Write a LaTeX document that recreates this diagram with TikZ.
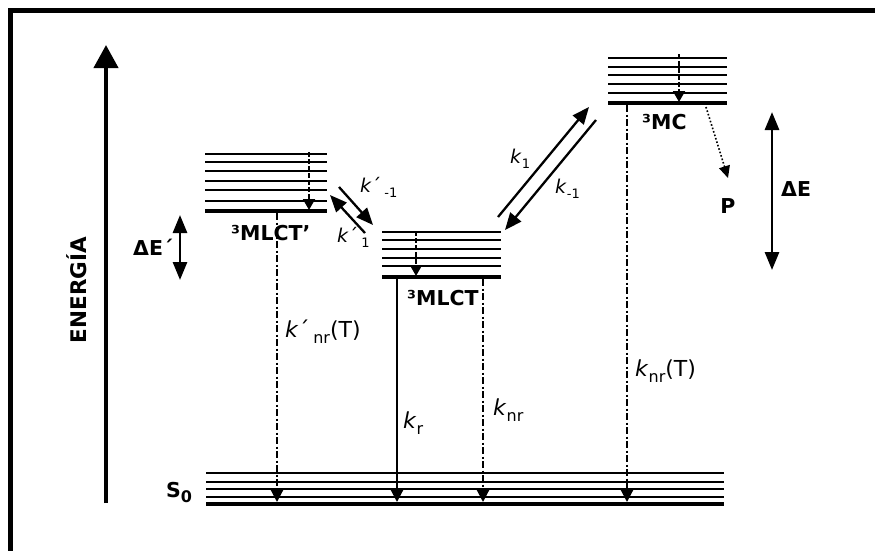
\documentclass[tikz,border=0pt]{standalone}
\usepackage{fontspec}
\setmainfont{DejaVu Sans}[ItalicFont={DejaVu Sans Oblique},BoldFont={DejaVu Sans Bold},BoldItalicFont={DejaVu Sans Bold Oblique}]
\usetikzlibrary{arrows.meta}
\newcommand\sbx[1]{\raisebox{-0.3em}{\fontsize{16}{16}\selectfont #1}}
\newcommand\sbs[1]{\raisebox{-0.3em}{\fontsize{13}{13}\selectfont #1}}
\newcommand\kk{\textit{k}}
\begin{document}
\begin{tikzpicture}[x=1pt,y=-1pt,
  thinlvl/.style={line width=2.2pt},
  thicklvl/.style={line width=4.2pt},
  lbl/.style={font=\fontsize{20.5}{24}\selectfont\bfseries, inner sep=0pt},
  klbl/.style={font=\fontsize{22}{26}\selectfont, inner sep=0pt},
  ksm/.style={font=\fontsize{19}{22}\selectfont, inner sep=0pt},
  dashdot/.style={line width=2pt, dash pattern=on 7pt off 2.5pt on 2pt off 2.5pt},
  decay/.style={-{Triangle[width=12pt,length=12pt]}},
  relax/.style={line width=1.8pt, dash pattern=on 5pt off 2pt, -{Triangle[width=12pt,length=11pt]}},
  transfer/.style={line width=2.3pt, -{Triangle[width=14pt,length=17pt]}},
  gap/.style={line width=2.8pt, {Triangle[width=14pt,length=18pt]}-{Triangle[width=14pt,length=18pt]}}
]
\useasboundingbox (0,0) rectangle (875,550);
% frame (top and left edges)
\draw[line width=4.5pt, line join=miter] (10.3,552) -- (10.3,10.3) -- (877,10.3);

% energy axis
\coordinate (axB) at (106,503);
\coordinate (axT) at (106,45);
\draw[line width=4.2pt, -{Triangle[width=24pt,length=23pt]}] (axB) -- (axT);
\node[lbl, rotate=90, font=\fontsize{21.5}{24}\selectfont\bfseries] (energia) at (77,290) {ENERGÍA};

% 3MLCT' levels
\foreach \y in {154,162,171,181,190,201} \draw[thinlvl] (205,\y) -- (327,\y);
\draw[thicklvl] (205,211) -- (327,211);
% 3MLCT levels
\foreach \y in {232,240,249,258,266} \draw[thinlvl] (382,\y) -- (501,\y);
\draw[thicklvl] (382,277) -- (501,277);
% 3MC levels
\foreach \y in {58,67,75,84,93} \draw[thinlvl] (608,\y) -- (727,\y);
\draw[thicklvl] (608,103) -- (727,103);
% S0 levels
\foreach \y in {473,482,489,497} \draw[thinlvl] (206,\y) -- (724,\y);
\draw[thicklvl] (206,504) -- (724,504);

% state labels
\node[lbl, anchor=base west] (lmlctp) at (231,240) {³MLCT’};
\node[lbl, anchor=base west] (lmlct) at (407,305) {³MLCT};
\node[lbl, anchor=base west] (lmc) at (642,129) {³MC};
\node[lbl, anchor=base] (lp) at (728,213) {P};
\node[lbl, anchor=base west] (lde) at (781,196) {ΔE};
\node[lbl, anchor=base west] (ldep) at (133,255) {ΔE´};
\node[lbl, anchor=base west] (ls0) at (166,497) {S\raisebox{-0.25em}{\fontsize{16}{16}\selectfont 0}};

% internal relaxation arrows
\coordinate (rA1) at (309,152); \coordinate (rA2) at (309,210);
\coordinate (rB1) at (416,231); \coordinate (rB2) at (416,276);
\coordinate (rC1) at (679,54);  \coordinate (rC2) at (679,102);
\draw[relax] (rA1) -- (rA2);
\draw[relax] (rB1) -- (rB2);
\draw[relax] (rC1) -- (rC2);

% decays to S0
\coordinate (dA1) at (277,213); \coordinate (dA2) at (277,502);
\coordinate (dB1) at (397,279); \coordinate (dB2) at (397,502);
\coordinate (dC1) at (483,279); \coordinate (dC2) at (483,502);
\coordinate (dD1) at (627,105); \coordinate (dD2) at (627,502);
\draw[dashdot, decay] (dA1) -- (dA2);
\draw[line width=2pt, decay] (dB1) -- (dB2);
\draw[dashdot, decay] (dC1) -- (dC2);
\draw[dashdot, decay] (dD1) -- (dD2);

% transfer arrows
\coordinate (tA1) at (339,187); \coordinate (tA2) at (373,225);
\coordinate (tB1) at (365,233); \coordinate (tB2) at (330,195);
\coordinate (tC1) at (498,217); \coordinate (tC2) at (589,107);
\coordinate (tD1) at (596,120); \coordinate (tD2) at (505,230);
\draw[transfer] (tA1) -- (tA2);
\draw[transfer] (tB1) -- (tB2);
\draw[transfer] (tC1) -- (tC2);
\draw[transfer] (tD1) -- (tD2);

% photoproducts
\coordinate (pA1) at (706,107); \coordinate (pA2) at (728,178);
\draw[line width=1.6pt, dotted, -{Triangle[width=11pt,length=12pt]}] (pA1) -- (pA2);

% energy gaps
\coordinate (gA1) at (772,112); \coordinate (gA2) at (772,270);
\coordinate (gB1) at (180,215); \coordinate (gB2) at (180,280);
\draw[gap] (gA1) -- (gA2);
\draw[gap] (gB1) -- (gB2);

% rate labels
\node[klbl, anchor=base west] (knrp) at (285,337) {\kk´\,\sbx{nr}(T)};
\node[klbl, anchor=base west] (kr) at (403,428) {\kk\sbx{r}};
\node[klbl, anchor=base west] (knr) at (493,415) {\kk\sbx{nr}};
\node[klbl, anchor=base west] (knrT) at (635,376) {\kk\sbx{nr}(T)};
\node[ksm, anchor=base west] (kpm1) at (360,192) {\kk´\,\sbs{-1}};
\node[ksm, anchor=base west] (kp1) at (337,242) {\kk´\,\sbs{1}};
\node[ksm, anchor=base west] (k1) at (510,163) {\kk\sbs{1}};
\node[ksm, anchor=base west] (km1) at (555,193) {\kk\sbs{-1}};
\end{tikzpicture}
\end{document}
